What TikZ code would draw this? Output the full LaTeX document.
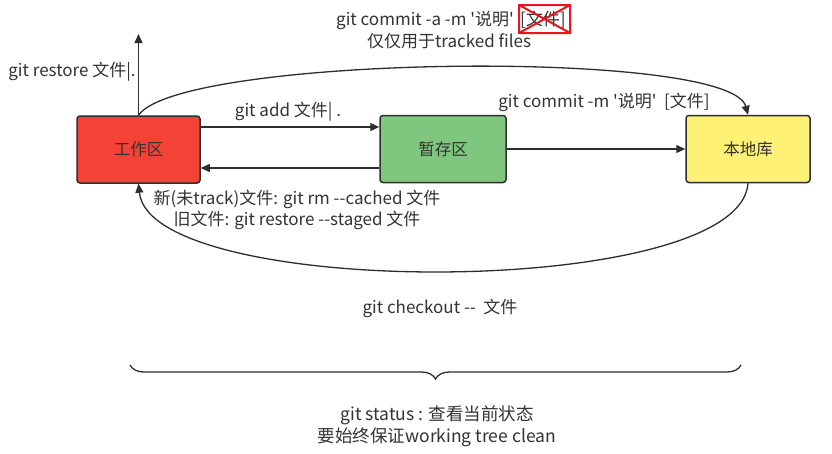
\documentclass[tikz,border=0pt]{standalone}
\usepackage{fontspec}
\setmainfont[Ligatures=TeXOff]{Noto Sans CJK SC}
\usetikzlibrary{arrows.meta,decorations.pathreplacing}
\definecolor{redc}{HTML}{F44336}
\definecolor{greenc}{HTML}{7FC77F}
\definecolor{yellowc}{HTML}{FFF176}
\definecolor{linec}{HTML}{2E2E2E}
\definecolor{textc}{HTML}{333333}
\definecolor{crossc}{HTML}{E8141E}
\begin{document}
\begin{tikzpicture}[x=1pt,y=-1pt,
  font=\fontsize{17}{21.5}\selectfont,
  box/.style={draw=linec, line width=1.5pt, rounded corners=3pt, minimum height=67pt, text=textc, font=\fontsize{16.5}{19}\selectfont},
  conn/.style={draw=linec, line width=1.3pt, -{Triangle[length=9pt,width=8pt]}},
  lbl/.style={inner sep=0pt, align=center, text=textc}]
\useasboundingbox (0,0) rectangle (832,453);
\fill[white] (0,0) rectangle (832,453);

\node[box, fill=redc, minimum width=123pt] (wk) at (138.5,149.5) {工作区};
\node[box, fill=greenc, minimum width=126pt] (st) at (443,149) {暂存区};
\node[box, fill=yellowc, minimum width=124pt] (rp) at (748,149) {本地库};

\draw[conn] (wk.east |- 0,127) -- (st.west |- 0,127);
\draw[conn] (st.west |- 0,168) -- (wk.east |- 0,168);
\draw[conn] (st.east) -- (rp.west);
\coordinate (up) at (138.5,34);
\draw[conn] (wk.north) -- (up);
\draw[conn] (wk.north) .. controls (180,55) and (730,48) .. (rp.north);
\draw[conn] (rp.south) .. controls (740,300) and (150,300) .. (wk.south);

\node[lbl] (l1) at (72,72) {git restore 文件|.};
\node[lbl] (l2) at (288,112) {git add 文件| .};
\node[lbl] (l3) at (604,102) {git commit -m '说明'\ \ [文件]};
\node[lbl, anchor=base east] (l4a) at (514,25) {git commit -a -m '说明'};
\node[lbl, anchor=base west] (l4b) at (520,25) {[文件]};
\node[lbl] (l5) at (449,41) {仅仅用于tracked files};
\draw[crossc, line width=2pt] (519,5) rectangle (570,33) (519,5) -- (570,33) (519,33) -- (570,5);
\node[lbl] (l6) at (297,210) {新(未track)文件: git rm --cached 文件\\旧文件: git restore --staged 文件};
\node[lbl] (l7) at (440,308) {git checkout --\ \ 文件};

\coordinate (bl) at (130,365);
\coordinate (br) at (741,365);
\draw[linec, line width=1.3pt, decorate, decoration={brace, amplitude=14pt, mirror}] (bl) -- (br);
\node[lbl, font=\fontsize{17.5}{22}\selectfont] (l8) at (437,426) {git status : 查看当前状态\\要始终保证working tree clean};
\end{tikzpicture}
\end{document}
